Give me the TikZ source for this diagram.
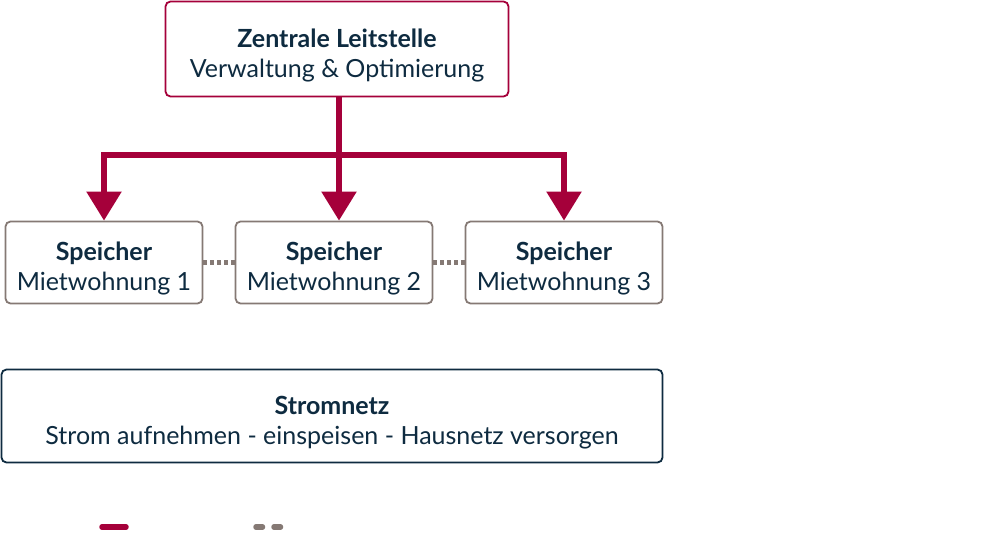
\documentclass[tikz,border=0pt]{standalone}
\usepackage{fontspec}
\setmainfont{Lato}
\usetikzlibrary{arrows.meta}
\definecolor{leitrot}{HTML}{A5003A}
\definecolor{grauton}{HTML}{857974}
\definecolor{nachtblau}{HTML}{0E2B40}
\newcommand{\obenluft}{\rule{0pt}{31pt}}
\tikzset{
  box/.style={draw, rounded corners=5pt, line width=1.8pt, fill=white,
    text=nachtblau, align=center, inner sep=0pt,
    font=\fontsize{25}{30}\selectfont},
  leitbox/.style={box, draw=leitrot, minimum width=343pt, minimum height=95pt},
  speicherbox/.style={box, draw=grauton, minimum width=197pt, minimum height=82pt},
  netzbox/.style={box, draw=nachtblau, minimum width=661pt, minimum height=93pt},
  fluss/.style={draw=leitrot, line width=5.5pt},
  kopplung/.style={draw=grauton, line width=5.5pt, dash pattern=on 4pt off 3pt}
}
\begin{document}
\begin{tikzpicture}[x=1pt, y=-1pt]
  \useasboundingbox (0,0) rectangle (982,543);
  \node[leitbox] (leit) at (337,49)
    {\obenluft\textbf{Zentrale Leitstelle}\\Verwaltung \& Optimierung};
  \node[speicherbox] (s1) at (104,262.5) {\obenluft\textbf{Speicher}\\Mietwohnung 1};
  \node[speicherbox] (s2) at (334,262.5) {\obenluft\textbf{Speicher}\\Mietwohnung 2};
  \node[speicherbox] (s3) at (564,262.5) {\obenluft\textbf{Speicher}\\Mietwohnung 3};
  \node[netzbox] (netz) at (332,416)
    {\obenluft\textbf{Stromnetz}\\Strom aufnehmen - einspeisen - Hausnetz versorgen};
  \coordinate (gabel) at (339,155);
  \begin{scope}[-{Triangle[width=34pt, length=29pt]}]
    \draw[fluss] (leit.south -| gabel) -- (gabel) -| (s1.north);
    \draw[fluss] (leit.south -| gabel) -- (s2.north -| gabel);
    \draw[fluss] (gabel) -| (s3.north);
  \end{scope}
  \draw[kopplung] (s1.east) -- (s2.west);
  \draw[kopplung] (s2.east) -- (s3.west);
  % Legende
  \coordinate (l1a) at (102,527);
  \coordinate (l1b) at (126,527);
  \coordinate (l2a) at (256,527);
  \coordinate (l2b) at (281,527);
  \draw[fluss, line cap=round] (l1a) -- (l1b);
  \draw[draw=grauton, line width=5.5pt, line cap=round, dash pattern=on 6.5pt off 11.5pt] (l2a) -- (l2b);
\end{tikzpicture}
\end{document}
